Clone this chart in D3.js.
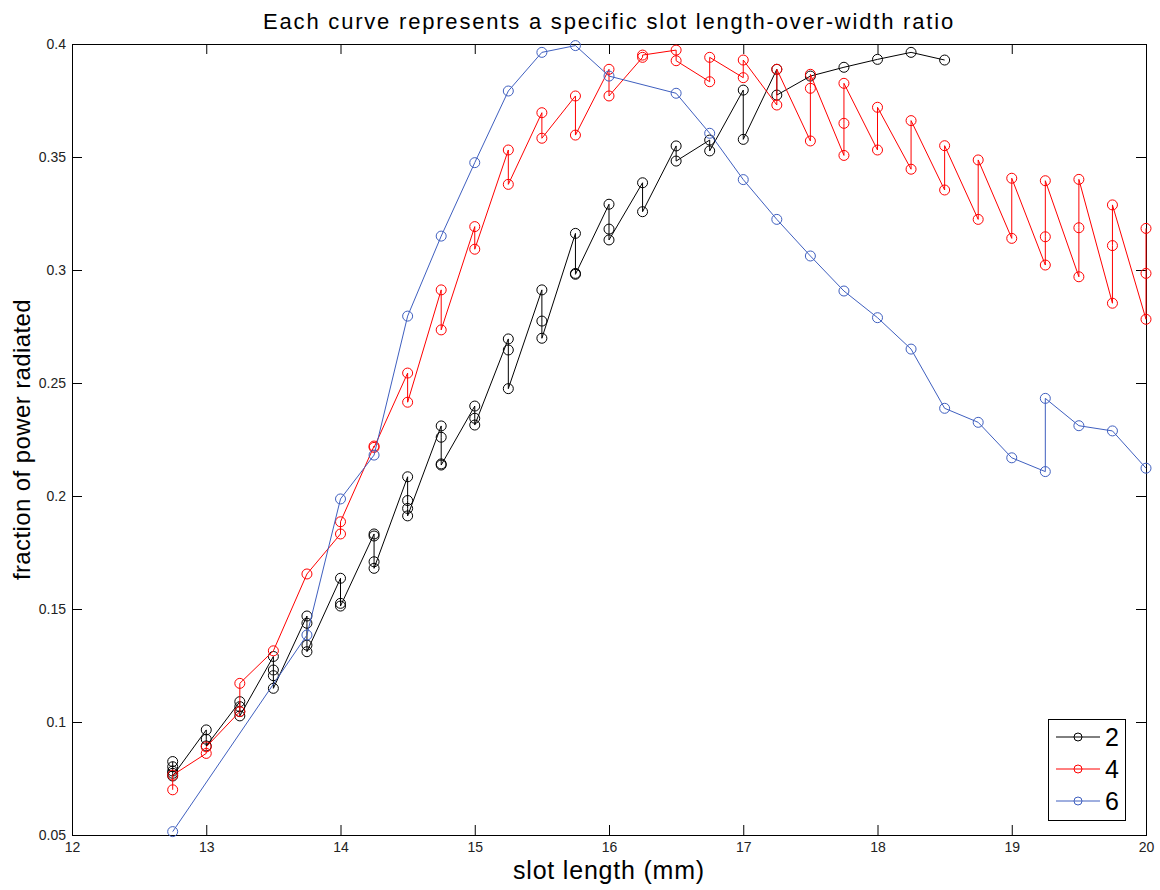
<!DOCTYPE html>
<html>
<head>
<meta charset="utf-8">
<script src="https://cdn.jsdelivr.net/npm/d3@7"></script>
<style>
  body { margin: 0; background: #fff; }
  svg { display: block; font-family: "Liberation Sans", Arial, sans-serif; }
  .axis text { font-size: 14px; fill: #222; }
  .axis path { display: none; }
  .axis line { stroke: #000; }
</style>
</head>
<body>
<div id="chart"></div>
<script>
// points in the order the curves were traced: [slot length, fraction]
var ratio2 = [
  [12.75,0.0825],[12.75,0.0802],[12.75,0.0783],[12.75,0.0773],[12.75,0.0761],
  [13,0.0965],[13,0.0924],[13,0.0894],
  [13.25,0.109],[13.25,0.1068],[13.25,0.1046],[13.25,0.1027],
  [13.5,0.129],[13.5,0.123],[13.5,0.1205],[13.5,0.1149],
  [13.75,0.1469],[13.75,0.1437],[13.75,0.134],[13.75,0.1311],
  [14,0.1636],[14,0.1525],[14,0.1513],
  [14.25,0.1832],[14.25,0.1823],[14.25,0.1709],[14.25,0.168],
  [14.5,0.2085],[14.5,0.198],[14.5,0.1945],[14.5,0.1912],
  [14.75,0.231],[14.75,0.226],[14.75,0.2142],[14.75,0.2137],
  [15,0.2398],[15,0.2344],[15,0.2314],
  [15.25,0.2695],[15.25,0.2646],[15.25,0.2475],
  [15.5,0.2912],[15.5,0.2774],[15.5,0.2698],
  [15.75,0.3162],[15.75,0.2985],[15.75,0.2981],
  [16,0.3291],[16,0.3181],[16,0.3133],
  [16.25,0.3386],[16.25,0.3258],
  [16.5,0.3549],[16.5,0.3482],
  [16.75,0.3575],[16.75,0.3527],
  [17,0.3796],[17,0.3578],
  [17.25,0.3888],[17.25,0.3774],
  [17.5,0.3858],[17.75,0.3897],[18,0.3932],[18.25,0.3963],[18.5,0.3929]
];

var ratio4 = [
  [12.75,0.070],[12.75,0.0765],
  [13,0.0861],[13,0.089],
  [13.25,0.1046],[13.25,0.1171],
  [13.5,0.1315],
  [13.75,0.1655],
  [14,0.1832],[14,0.1886],
  [14.25,0.2221],[14.25,0.2215],
  [14.5,0.2544],[14.5,0.2415],
  [14.75,0.2912],[14.75,0.2735],
  [15,0.3192],[15,0.3092],
  [15.25,0.3531],[15.25,0.3379],
  [15.5,0.3696],[15.5,0.3583],
  [15.75,0.377],[15.75,0.3597],
  [16,0.3888],[16,0.377],
  [16.25,0.3941],[16.25,0.3951],
  [16.5,0.3973],[16.5,0.3926],
  [16.75,0.3833],[16.75,0.3941],
  [17,0.3851],[17,0.3929],
  [17.25,0.373],[17.25,0.3888],
  [17.5,0.3571],[17.5,0.3804],[17.5,0.3866],
  [17.75,0.3507],[17.75,0.3649],[17.75,0.3826],
  [18,0.3531],[18,0.372],
  [18.25,0.3446],[18.25,0.3661],
  [18.5,0.3354],[18.5,0.355],
  [18.75,0.3224],[18.75,0.3487],
  [19,0.314],[19,0.3406],
  [19.25,0.3022],[19.25,0.3147],[19.25,0.3395],
  [19.5,0.297],[19.5,0.3187],[19.5,0.3401],
  [19.75,0.2853],[19.75,0.3108],[19.75,0.3288],
  [20,0.2782],[20,0.2985],[20,0.3184]
];

var ratio6 = [
  [12.75,0.0515],[13.75,0.1385],[14,0.1987],[14.25,0.2181],[14.5,0.2796],
  [14.75,0.315],[15,0.3475],[15.25,0.3792],[15.5,0.3963],[15.75,0.3993],
  [16,0.3858],[16.5,0.3782],[16.75,0.3605],[17,0.34],[17.25,0.3224],
  [17.5,0.3062],[17.75,0.2907],[18,0.2789],[18.25,0.265],[18.5,0.2388],
  [18.75,0.2326],[19,0.2169],[19.25,0.2108],[19.25,0.2432],[19.5,0.2311],
  [19.75,0.2288],[20,0.2123]
];

var seriesNames = ["2", "4", "6"];
var seriesColors = ["#000000", "#ff0000", "#3f5fbf"];
var xTicks = [12, 13, 14, 15, 16, 17, 18, 19, 20];
var yTicks = [0.05, 0.1, 0.15, 0.2, 0.25, 0.3, 0.35, 0.4];

var titleText = "Each curve represents a specific slot length-over-width ratio";
var xLabel = "slot length (mm)";
var yLabel = "fraction of power radiated";

var width = 1160, height = 890,
  margin = {top: 44, right: 14, bottom: 55, left: 72};

var x = d3.scaleLinear().domain([12, 20]).range([margin.left, width - margin.right]);
var y = d3.scaleLinear().domain([0.05, 0.4]).range([height - margin.bottom, margin.top]);

var svg = d3.select("#chart").append("svg")
  .attr("width", width)
  .attr("height", height);

// axes, ticks pointing inward like MATLAB
svg.append("g").attr("class", "axis")
  .attr("transform", "translate(0," + y.range()[0] + ")")
  .call(d3.axisBottom(x).tickValues(xTicks).tickSizeInner(-10).tickSizeOuter(0).tickPadding(7)
    .tickFormat(function (d) { return String(d); }));

svg.append("g").attr("class", "axis")
  .attr("transform", "translate(0," + y.range()[1] + ")")
  .call(d3.axisTop(x).tickValues(xTicks).tickSizeInner(-10).tickSizeOuter(0).tickFormat(""));

svg.append("g").attr("class", "axis")
  .attr("transform", "translate(" + x.range()[0] + ",0)")
  .call(d3.axisLeft(y).tickValues(yTicks).tickSizeInner(-10).tickSizeOuter(0).tickPadding(6)
    .tickFormat(function (d) { return String(d); }));

svg.append("g").attr("class", "axis")
  .attr("transform", "translate(" + x.range()[1] + ",0)")
  .call(d3.axisRight(y).tickValues(yTicks).tickSizeInner(-10).tickSizeOuter(0).tickFormat(""));

svg.append("rect")
  .attr("x", x.range()[0] + 0.5)
  .attr("y", y.range()[1] + 0.5)
  .attr("width", x.range()[1] - x.range()[0])
  .attr("height", y.range()[0] - y.range()[1])
  .attr("fill", "none")
  .attr("stroke", "#000");

// curves
var line = d3.line()
  .x(function (d) { return x(d[0]); })
  .y(function (d) { return y(d[1]); });

[ratio2, ratio4, ratio6].forEach(function (data, i) {
  var g = svg.append("g").attr("class", "series");
  g.append("path")
    .datum(data)
    .attr("d", line)
    .attr("fill", "none")
    .attr("stroke", seriesColors[i])
    .attr("stroke-width", 1);
  g.selectAll("circle")
    .data(data)
    .enter().append("circle")
    .attr("cx", function (d) { return x(d[0]); })
    .attr("cy", function (d) { return y(d[1]); })
    .attr("r", 5)
    .attr("fill", "none")
    .attr("stroke", seriesColors[i])
    .attr("stroke-width", 1);
});

// text
svg.append("text")
  .attr("x", (x.range()[0] + x.range()[1]) / 2)
  .attr("y", 29)
  .attr("text-anchor", "middle")
  .style("font-size", "22px")
  .style("letter-spacing", "1.8px")
  .text(titleText);

svg.append("text")
  .attr("x", (x.range()[0] + x.range()[1]) / 2)
  .attr("y", 879)
  .attr("text-anchor", "middle")
  .style("font-size", "25px")
  .style("letter-spacing", "0.8px")
  .text(xLabel);

svg.append("text")
  .attr("transform", "translate(30," + (y.range()[0] + y.range()[1]) / 2 + ") rotate(-90)")
  .attr("text-anchor", "middle")
  .style("font-size", "24px")
  .style("letter-spacing", "0.4px")
  .text(yLabel);

// legend
var legend = svg.append("g").attr("transform", "translate(1048,719)");
legend.append("rect")
  .attr("x", 0.5).attr("y", 0.5)
  .attr("width", 77).attr("height", 101)
  .attr("fill", "#fff")
  .attr("stroke", "#000");

var item = legend.selectAll(".item")
  .data(seriesNames)
  .enter().append("g")
  .attr("class", "item")
  .attr("transform", function (d, i) { return "translate(0," + (18 + i * 32) + ")"; });

item.append("line")
  .attr("x1", 8).attr("x2", 52)
  .attr("stroke", function (d, i) { return seriesColors[i]; });
item.append("circle")
  .attr("cx", 30).attr("r", 4)
  .attr("fill", "none")
  .attr("stroke", function (d, i) { return seriesColors[i]; });
item.append("text")
  .attr("x", 57).attr("y", 9)
  .style("font-size", "25px")
  .text(function (d) { return d; });
</script>
</body>
</html>
